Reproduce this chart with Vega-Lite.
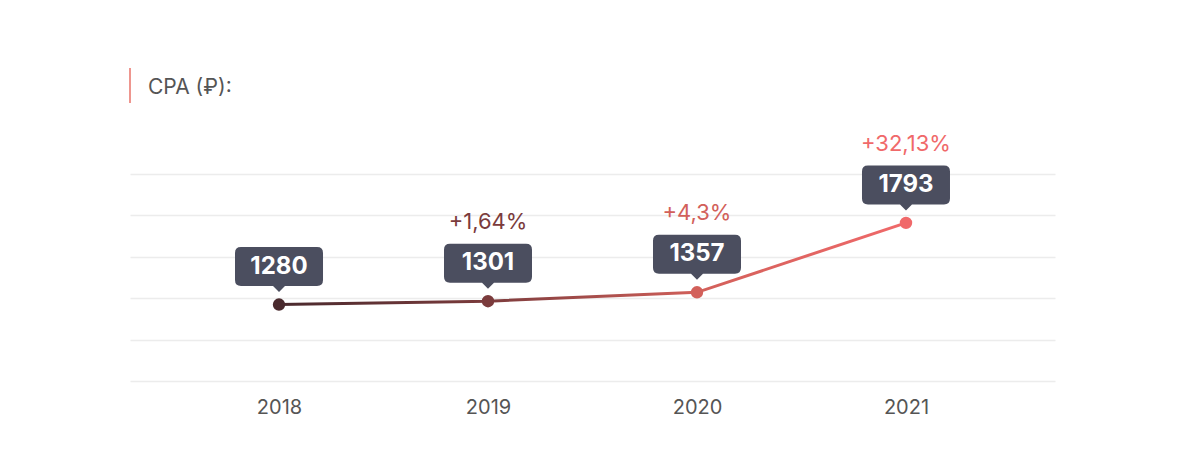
{
  "$schema": "https://vega.github.io/schema/vega-lite/v6.json",
  "width": 925,
  "height": 207,
  "autosize": {"type": "none"},
  "padding": {"left": 130, "top": 174, "right": 129, "bottom": 93},
  "background": "white",
  "config": {"view": {"stroke": null}, "font": "Inter"},
  "title": {
    "text": "CPA (₽):",
    "anchor": "start",
    "frame": "group",
    "dx": 18,
    "offset": -48,
    "baseline": "alphabetic",
    "fontSize": 21,
    "fontWeight": "normal",
    "color": "#555555",
    "font": "Inter"
  },
  "data": {
    "values": [
      {"year": "2018", "cpa": 1280, "change": ""},
      {"year": "2019", "cpa": 1301, "change": "+1,64%"},
      {"year": "2020", "cpa": 1357, "change": "+4,3%"},
      {"year": "2021", "cpa": 1793, "change": "+32,13%"}
    ]
  },
  "layer": [
    {
      "encoding": {
        "x": {
          "field": "year",
          "type": "ordinal",
          "scale": {"type": "point", "padding": 0.713},
          "axis": {
            "title": null,
            "domain": false,
            "ticks": false,
            "grid": false,
            "labelFontSize": 20,
            "labelColor": "#555555",
            "labelPadding": 16,
            "labelFont": "Inter",
            "labelAngle": 0
          }
        },
        "y": {
          "field": "cpa",
          "type": "quantitative",
          "scale": {"domain": [800, 2100], "zero": false, "nice": false},
          "axis": {
            "title": null,
            "domain": false,
            "ticks": false,
            "labels": false,
            "grid": true,
            "gridColor": "#ececec",
            "gridWidth": 1.5,
            "values": [800, 1060, 1320, 1580, 1840, 2100]
          }
        }
      },
      "layer": [
        {
          "mark": {
            "type": "line",
            "strokeWidth": 3,
            "color": {
              "gradient": "linear",
              "x1": 0, "x2": 1, "y1": 0, "y2": 0,
              "stops": [
                {"offset": 0, "color": "#4a2a2e"},
                {"offset": 0.33, "color": "#7b3b3c"},
                {"offset": 0.67, "color": "#d2605a"},
                {"offset": 1, "color": "#f0696a"}
              ]
            }
          }
        },
        {
          "mark": {
            "type": "point",
            "shape": "M -0.864,-0.443 H 0.864 Q 1,-0.443 1,-0.307 V 0.307 Q 1,0.443 0.864,0.443 H 0.136 L 0,0.58 L -0.136,0.443 H -0.864 Q -1,0.443 -1,0.307 V -0.307 Q -1,-0.443 -0.864,-0.443 Z",
            "size": 7744,
            "filled": true,
            "color": "#4b4e5f",
            "opacity": 1,
            "strokeWidth": 0,
            "yOffset": -38
          }
        },
        {
          "mark": {"type": "circle", "size": 154, "opacity": 1},
          "encoding": {
            "color": {
              "field": "year",
              "type": "nominal",
              "scale": {"domain": ["2018", "2019", "2020", "2021"], "range": ["#4a2a2e", "#7b3b3c", "#d2605a", "#f0696a"]},
              "legend": null
            }
          }
        },
        {
          "mark": {"type": "text", "color": "white", "fontWeight": "bold", "fontSize": 24, "dy": -38, "baseline": "middle", "font": "Inter"},
          "encoding": {"text": {"field": "cpa", "type": "quantitative", "format": "d"}}
        },
        {
          "mark": {"type": "text", "fontSize": 22, "dy": -79, "baseline": "middle", "font": "Inter"},
          "encoding": {
            "text": {"field": "change", "type": "nominal"},
            "color": {
              "field": "year",
              "type": "nominal",
              "scale": {"domain": ["2018", "2019", "2020", "2021"], "range": ["#4a2a2e", "#7b3b3c", "#d2605a", "#f0696a"]},
              "legend": null
            }
          }
        }
      ]
    },
    {
      "data": {"values": [{"mark": "accent"}]},
      "mark": {"type": "rule", "color": "#e8736a", "strokeWidth": 1.5},
      "encoding": {
        "x": {"datum": 0, "type": "quantitative", "scale": {"domain": [0, 1]}, "axis": null},
        "y": {
          "datum": 2546,
          "type": "quantitative",
          "scale": {"domain": [800, 2100], "zero": false, "nice": false},
          "axis": {
            "title": null,
            "domain": false,
            "ticks": false,
            "labels": false,
            "grid": true,
            "gridColor": "#ececec",
            "gridWidth": 1.5,
            "values": [800, 1060, 1320, 1580, 1840, 2100]
          }
        },
        "y2": {"datum": 2766}
      }
    }
  ],
  "resolve": {"scale": {"x": "independent"}}
}
